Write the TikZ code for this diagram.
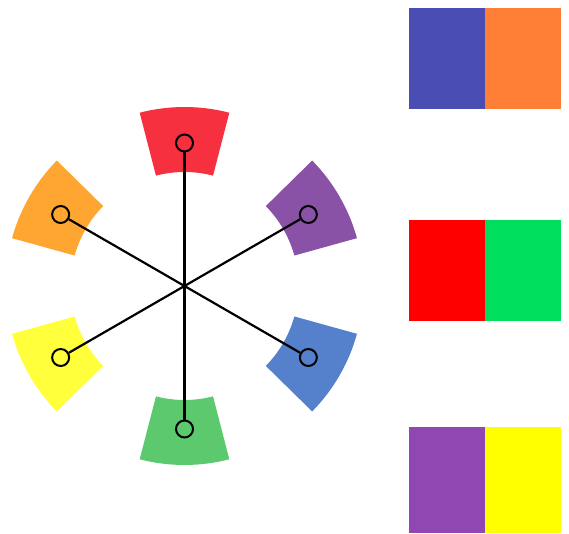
\documentclass[tikz,border=0pt]{standalone}
\usetikzlibrary{positioning,calc}
\definecolor{wheelred}{HTML}{F6303F}
\definecolor{wheelpurple}{HTML}{8A52A6}
\definecolor{wheelblue}{HTML}{5580CB}
\definecolor{wheelgreen}{HTML}{5DC96E}
\definecolor{wheelyellow}{HTML}{FFFF3C}
\definecolor{wheelorange}{HTML}{FFA532}
\definecolor{swblue}{HTML}{4A4DB3}
\definecolor{sworange}{HTML}{FF7F37}
\definecolor{swred}{HTML}{FF0000}
\definecolor{swgreen}{HTML}{00DE5E}
\definecolor{swpurple}{HTML}{9147B2}
\definecolor{swyellow}{HTML}{FFFF00}
\tikzset{
  knob/.style   = {draw, line width=2pt, circle, inner sep=0pt, minimum size=17pt},
  spoke/.style  = {line width=2.2pt},
  swatch/.style = {inner sep=0pt, minimum width=75.5pt, minimum height=101pt,
                   anchor=south west},
}
\begin{document}
\begin{tikzpicture}[x=1pt,y=1pt]
\useasboundingbox (0,0) rectangle (569,533);
\coordinate (c) at (184.5,247);
% colour wheel
\foreach \ang/\col in {90/wheelred,30/wheelpurple,-30/wheelblue,-90/wheelgreen,-150/wheelyellow,150/wheelorange}
  \fill[\col] ($(c)+(\ang-14.5:114)$) arc[start angle=\ang-14.5, end angle=\ang+14.5, radius=114]
    -- ($(c)+(\ang+14.5:179)$) arc[start angle=\ang+14.5, end angle=\ang-14.5, radius=179] -- cycle;
\node[knob] (kred) at ($(c)+(90:143)$) {};
\node[knob] (kpurple) at ($(c)+(30:143)$) {};
\node[knob] (kblue) at ($(c)+(-30:143)$) {};
\node[knob] (kgreen) at ($(c)+(-90:143)$) {};
\node[knob] (kyellow) at ($(c)+(-150:143)$) {};
\node[knob] (korange) at ($(c)+(150:143)$) {};
\draw[spoke] (kred) -- (kgreen);
\draw[spoke] (kpurple) -- (kyellow);
\draw[spoke] (kblue) -- (korange);
% complementary pairs
\node[swatch,fill=swblue] (pair1a) at (409,424) {};
\node[swatch,fill=sworange,right=0pt of pair1a] (pair1b) {};
\node[swatch,fill=swred] (pair2a) at (409,212) {};
\node[swatch,fill=swgreen,right=0pt of pair2a] (pair2b) {};
\node[swatch,fill=swpurple,minimum height=106pt] (pair3a) at (409,0) {};
\node[swatch,fill=swyellow,minimum height=106pt,right=0pt of pair3a] (pair3b) {};
\end{tikzpicture}
\end{document}
